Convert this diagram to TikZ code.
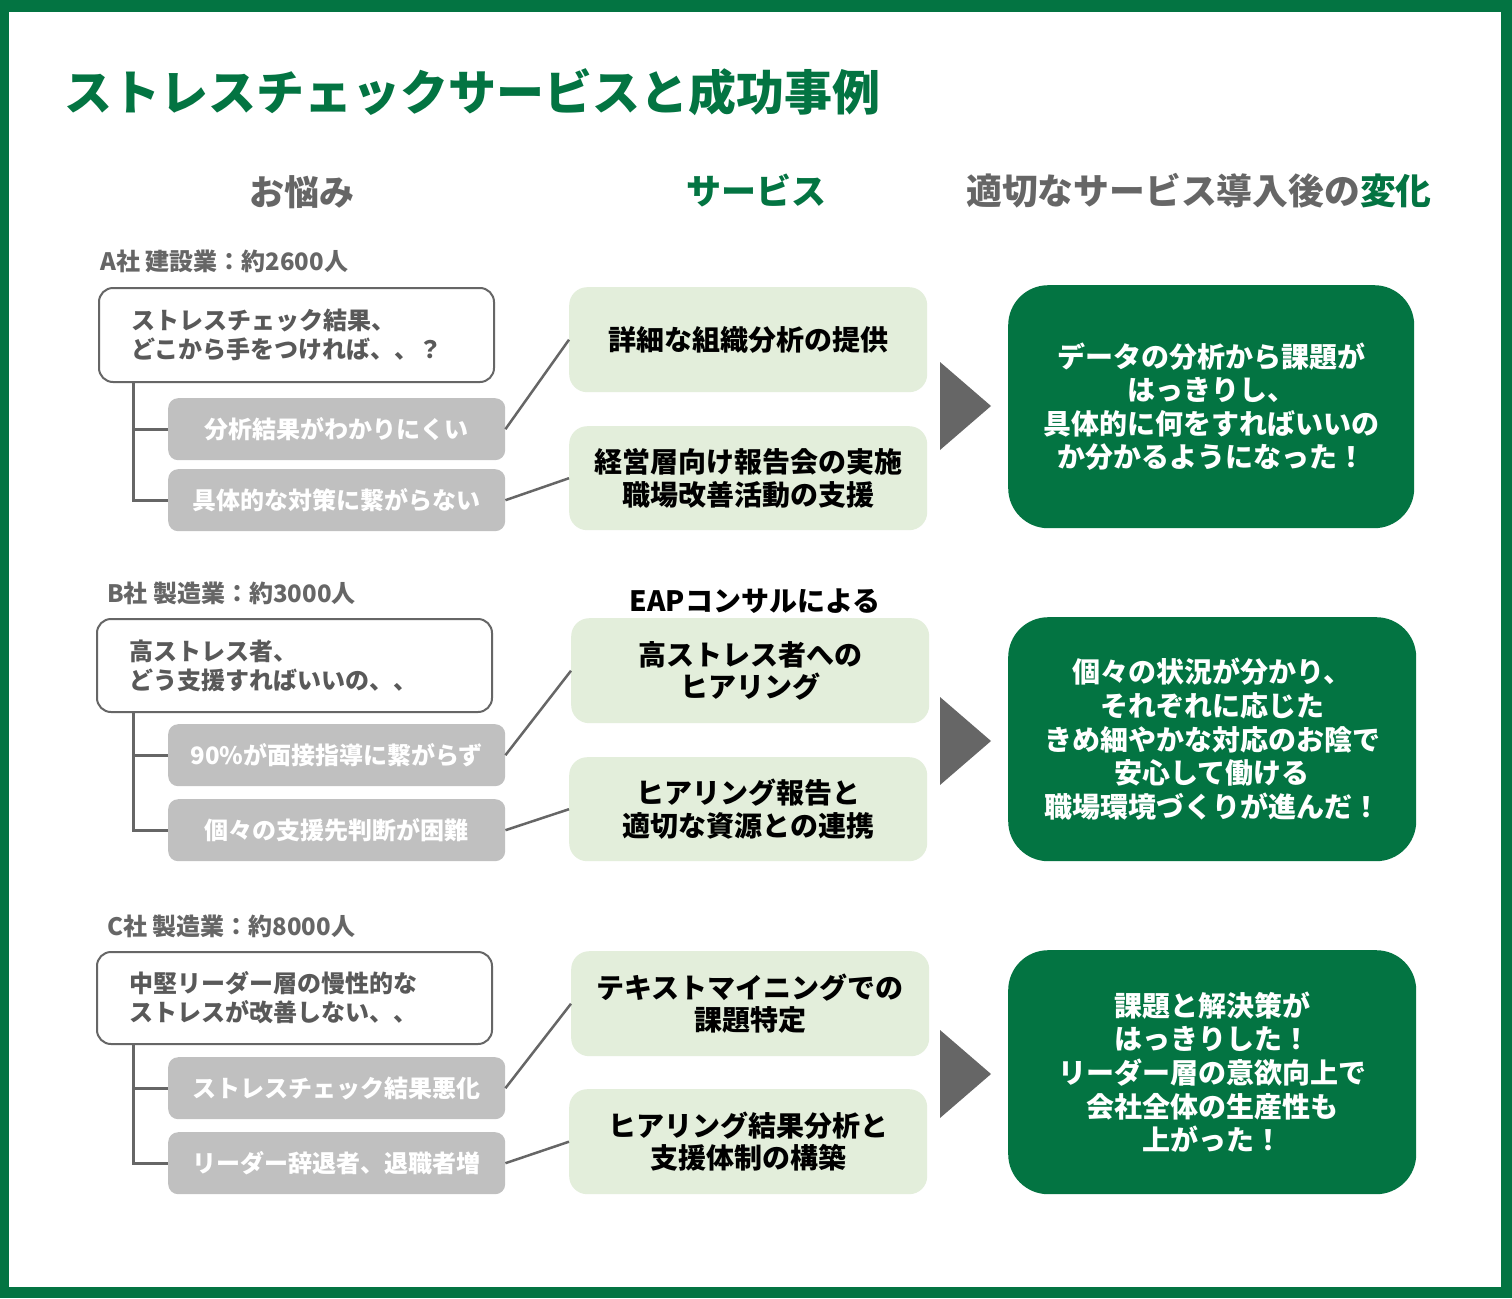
\documentclass[tikz,border=0pt]{standalone}
\usepackage{fontspec}
\setmainfont{Noto Sans CJK JP}
\definecolor{mygreen}{HTML}{037442}
\definecolor{svcgreen}{HTML}{E3EEDB}
\definecolor{subgray}{HTML}{C0C0C0}
\definecolor{linegray}{HTML}{666666}
\definecolor{txtgray}{HTML}{595959}
\begin{document}
\begin{tikzpicture}[x=1pt,y=-1pt,
  every node/.style={font=\bfseries, inner sep=0pt},
  title/.style={anchor=west, text=mygreen, font=\bfseries\fontsize{48}{56}\selectfont},
  head/.style={text=linegray, font=\bfseries\fontsize{35}{40}\selectfont},
  comp/.style={anchor=west, text=linegray, font=\bfseries\fontsize{24}{29}\selectfont},
  prob/.style={draw=linegray, line width=2pt, rounded corners=14pt, fill=white, anchor=north west,
    text width=331pt, inner xsep=32pt, align=left, text=txtgray, font=\bfseries\fontsize{24}{29}\selectfont},
  sub/.style={fill=subgray, rounded corners=10pt, minimum width=337pt, minimum height=62pt,
    anchor=north west, text=white, font=\bfseries\fontsize{24}{29}\selectfont},
  svc/.style={fill=svcgreen, rounded corners=18pt, minimum width=358pt, minimum height=105pt,
    anchor=north west, align=center, text=black, font=\bfseries\fontsize{28}{32.5}\selectfont},
  res/.style={fill=mygreen, rounded corners=40pt, minimum width=408pt, minimum height=244pt,
    anchor=north west, align=center, text=white, font=\bfseries\fontsize{28}{33.6}\selectfont},
  conn/.style={draw=linegray, line width=2.5pt},
  tree/.style={draw=linegray, line width=3pt},
  tri/.style={fill=linegray}]
\useasboundingbox (0,0) rectangle (1512,1298);
% frame
\fill[mygreen] (0,0) rectangle (1512,1298);
\fill[white] (9,12) rectangle (1501,1287);

\node[title] (title) at (64,92) {ストレスチェックサービスと成功事例};
\node[head] (h1) at (302,192) {お悩み};
\node[head, text=mygreen] (h2) at (756,190) {サービス};
\node[head, font=\bfseries\fontsize{35.8}{40}\selectfont] (h3) at (1199,191) {適切なサービス導入後の\textcolor{mygreen}{変化}};

% ---------- A ----------
\node[comp] (la) at (100,261) {A社 建設業：約2600人};
\node[prob, minimum height=94pt] (pa) at (98,287) {ストレスチェック結果、\\どこから手をつければ、、？};
\node[sub] (ga1) at (168,398) {分析結果がわかりにくい};
\node[sub] (ga2) at (168,469) {具体的な対策に繋がらない};
\node[svc] (sa1) at (569,287) {詳細な組織分析の提供};
\node[svc, minimum height=104pt] (sa2) at (569,426) {経営層向け報告会の実施\\職場改善活動の支援};
\node[res, minimum width=406pt, minimum height=243pt] (ra) at (1008,285) {データの分析から課題が\\はっきりし、\\具体的に何をすればいいの\\か分かるようになった！};
\coordinate (ta) at ([xshift=35pt]pa.south west);
\draw[tree] (ta) |- (ga1.west);
\draw[tree] (ta) |- (ga2.west);
\draw[conn] (ga1.east) -- (sa1.west);
\draw[conn] (ga2.east) -- (sa2.west);
\fill[tri] (940,362) -- (991,406) -- (940,450) -- cycle;

% ---------- B ----------
\node[comp] (lb) at (107,593) {B社 製造業：約3000人};
\node[prob, minimum height=93pt, text width=331pt] (pb) at (96,618) {高ストレス者、\\どう支援すればいいの、、};
\node[sub] (gb1) at (168,724) {90\%が面接指導に繋がらず};
\node[sub] (gb2) at (168,799) {個々の支援先判断が困難};
\node[text=black, font=\bfseries\fontsize{28}{32}\selectfont] (eap) at (755,601) {EAPコンサルによる};
\node[svc] (sb1) at (571,618) {高ストレス者への\\ヒアリング};
\node[svc, minimum height=104pt] (sb2) at (569,757) {ヒアリング報告と\\適切な資源との連携};
\node[res] (rb) at (1008,617) {個々の状況が分かり、\\それぞれに応じた\\きめ細やかな対応のお陰で\\安心して働ける\\職場環境づくりが進んだ！};
\coordinate (tb) at ([xshift=37pt]pb.south west);
\draw[tree] (tb) |- (gb1.west);
\draw[tree] (tb) |- (gb2.west);
\draw[conn] (gb1.east) -- (sb1.west);
\draw[conn] (gb2.east) -- (sb2.west);
\fill[tri] (940,697) -- (991,741) -- (940,785) -- cycle;

% ---------- C ----------
\node[comp] (lc) at (107,926) {C社 製造業：約8000人};
\node[prob, minimum height=92pt] (pc) at (96,951) {中堅リーダー層の慢性的な\\ストレスが改善しない、、};
\node[sub] (gc1) at (168,1057) {ストレスチェック結果悪化};
\node[sub] (gc2) at (168,1132) {リーダー辞退者、退職者増};
\node[svc] (sc1) at (571,951) {テキストマイニングでの\\課題特定};
\node[svc] (sc2) at (569,1089) {ヒアリング結果分析と\\支援体制の構築};
\node[res] (rc) at (1008,950) {課題と解決策が\\はっきりした！\\リーダー層の意欲向上で\\会社全体の生産性も\\上がった！};
\coordinate (tc) at ([xshift=37pt]pc.south west);
\draw[tree] (tc) |- (gc1.west);
\draw[tree] (tc) |- (gc2.west);
\draw[conn] (gc1.east) -- (sc1.west);
\draw[conn] (gc2.east) -- (sc2.west);
\fill[tri] (940,1030) -- (991,1074) -- (940,1118) -- cycle;
\end{tikzpicture}
\end{document}
